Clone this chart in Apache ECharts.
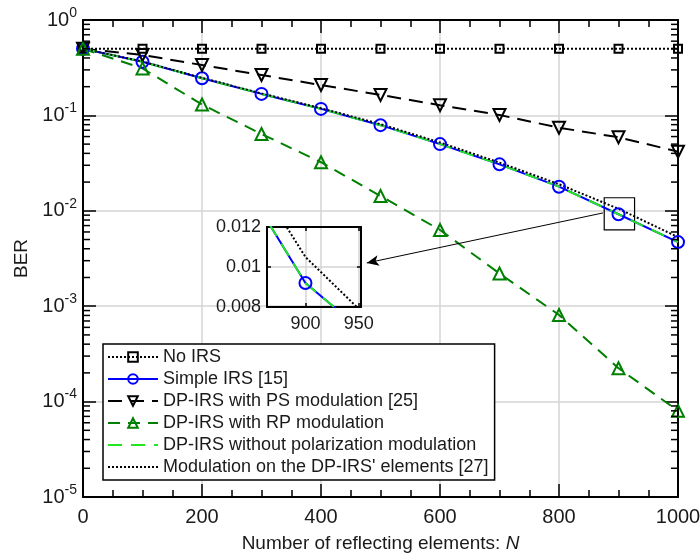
<!DOCTYPE html>
<html><head><meta charset="utf-8">
<script src="https://cdn.jsdelivr.net/npm/echarts@6/dist/echarts.min.js"></script>
<style>html,body{margin:0;padding:0;background:#fff}#c{width:700px;height:555px}</style>
</head><body><div id="c"></div>
<script>
// ---- data ----
const N = [0, 100, 200, 300, 400, 500, 600, 700, 800, 900, 1000];
const noIRS = [0.5, 0.5, 0.5, 0.5, 0.5, 0.5, 0.5, 0.5, 0.5, 0.5, 0.5];
const simpleIRS = [0.5, 0.365, 0.245, 0.168, 0.117, 0.079, 0.050, 0.0307, 0.0179, 0.0092, 0.0047];
const psMod = [0.5, 0.43, 0.337, 0.265, 0.208, 0.164, 0.128, 0.101, 0.0743, 0.059, 0.0417];
const rpMod = [0.5, 0.311, 0.13, 0.0638, 0.0323, 0.0143, 0.0063, 0.0022, 0.00081, 0.000224, 0.00008];
const noPolMod = [0.5, 0.365, 0.245, 0.168, 0.117, 0.079, 0.050, 0.0307, 0.0179, 0.0092, 0.0047];
const modElems = [0.5, 0.367, 0.247, 0.170, 0.119, 0.081, 0.052, 0.032, 0.019, 0.0105, 0.0053];
const names = ['No IRS', 'Simple IRS [15]', 'DP-IRS with PS modulation [25]', 'DP-IRS with RP modulation',
  'DP-IRS without polarization modulation', "Modulation on the DP-IRS' elements [27]"];
const xTicksInset = [900, 950];
const zoomBox = [[876, 0.0137], [927, 0.0063]];
const arrowFrom = [874, 0.0095];
const arrowTo = [477, 0.00284];
// minor log ticks (axis decoration)
const yMinor = [];
for (let e = -5; e < 0; e++) for (let m = 2; m <= 9; m++) yMinor.push(+(m * Math.pow(10, e)).toPrecision(3));

const FONT = '"Liberation Sans", Arial, sans-serif';
const TXT = '#1a1a1a';
const zip = a => N.map((x, i) => [x, a[i]]);

const chart = echarts.init(document.getElementById('c'));

function lineSeries(name, data, color, type, symbol, size, rotate, xi, yi, z) {
  const hasSym = !!symbol;
  return {
    type: 'line', name, data: zip(data), xAxisIndex: xi, yAxisIndex: yi,
    symbol: symbol || 'rect', symbolSize: hasSym ? size : 1, symbolRotate: rotate || 0,
    showSymbol: hasSym, clip: true, z: z,
    lineStyle: { color, width: 2, type },
    itemStyle: { color: 'rgba(255,255,255,0)', borderColor: hasSym ? color : 'rgba(255,255,255,0)', borderWidth: hasSym ? 2 : 0 },
    emphasis: { disabled: true }, silent: true
  };
}

const axisCommon = {
  axisLine: { show: true, onZero: false, lineStyle: { color: '#000', width: 2 } },
  axisTick: { show: true, inside: true, length: 13, lineStyle: { color: '#000', width: 1.5 } },
  minorTick: { show: false },
  splitLine: { show: false },
  axisLabel: { show: false }
};

const option = {
  animation: false,
  backgroundColor: '#fff',
  textStyle: { fontFamily: FONT },
  grid: [
    { left: 83, top: 20, width: 595, height: 477, containLabel: false, outerBoundsMode: 'none' },
    { left: 267, top: 227, width: 94, height: 80, containLabel: false, outerBoundsMode: 'none', z: 5 }
  ],
  legend: {
    orient: 'vertical', left: 103, top: 344, itemWidth: 50, itemHeight: 12, itemGap: 4,
    padding: [4, 6, 4, 4], backgroundColor: '#fff', borderColor: '#000', borderWidth: 1.5,
    textStyle: { fontSize: 18, color: TXT, fontFamily: FONT }, data: names, selectedMode: false, z: 10
  },
  xAxis: [
    Object.assign({}, axisCommon, {
      type: 'value', gridIndex: 0, min: 0, max: 1000, interval: 200, position: 'bottom',
      minorTick: { show: true, splitNumber: 4, length: 7, lineStyle: { color: '#000', width: 1.5 } },
      splitLine: { show: true, lineStyle: { color: '#d4d4d4', width: 1.5 } },
      axisLabel: { show: true, fontSize: 20, color: TXT, margin: 10, fontFamily: FONT, formatter: v => String(v) },
      name: '{a|Number of reflecting elements: }{i|N}', nameLocation: 'middle', nameGap: 37,
      nameTextStyle: { rich: { a: { fontSize: 19, color: TXT, fontFamily: FONT }, i: { fontSize: 19, color: TXT, fontStyle: 'italic', fontFamily: FONT } } }
    }),
    Object.assign({}, axisCommon, {
      type: 'value', gridIndex: 0, min: 0, max: 1000, interval: 200, position: 'top',
      minorTick: { show: true, splitNumber: 4, length: 7, lineStyle: { color: '#000', width: 1.5 } }
    }),
    Object.assign({}, axisCommon, {
      type: 'value', gridIndex: 1, min: 864, max: 952, position: 'bottom',
      axisTick: { show: true, inside: true, length: 4, customValues: xTicksInset, lineStyle: { color: '#000', width: 1.5 } },
      splitLine: { show: true, lineStyle: { color: '#d4d4d4', width: 1.5 } },
      axisLabel: { show: true, customValues: xTicksInset, fontSize: 18, color: TXT, margin: 8, fontFamily: FONT }
    }),
    Object.assign({}, axisCommon, {
      type: 'value', gridIndex: 1, min: 864, max: 952, position: 'top',
      axisTick: { show: true, inside: true, length: 4, customValues: xTicksInset, lineStyle: { color: '#000', width: 1.5 } }
    })
  ],
  yAxis: [
    Object.assign({}, axisCommon, {
      type: 'log', logBase: 10, gridIndex: 0, min: 1e-5, max: 1, position: 'left',
      splitLine: { show: true, lineStyle: { color: '#d4d4d4', width: 1.5 } },
      axisLabel: {
        show: true, margin: 6, fontFamily: FONT,
        formatter: v => '{b|10}{s|' + Math.round(Math.log10(v)) + '}',
        rich: { b: { fontSize: 20, color: TXT, lineHeight: 28, fontFamily: FONT }, s: { fontSize: 14, color: TXT, verticalAlign: 'top', lineHeight: 14, fontFamily: FONT } }
      },
      name: 'BER', nameLocation: 'middle', nameGap: 50, nameRotate: 90,
      nameTextStyle: { fontSize: 19, color: TXT, fontFamily: FONT }
    }),
    Object.assign({}, axisCommon, {
      type: 'log', logBase: 10, gridIndex: 0, min: 1e-5, max: 1, position: 'right'
    }),
    Object.assign({}, axisCommon, {
      type: 'value', gridIndex: 1, min: 0.008, max: 0.012, interval: 0.002, position: 'left',
      axisTick: { show: true, inside: true, length: 4, lineStyle: { color: '#000', width: 1.5 } },
      splitLine: { show: true, lineStyle: { color: '#d4d4d4', width: 1.5 } },
      axisLabel: { show: true, fontSize: 18, color: TXT, margin: 6, fontFamily: FONT }
    }),
    Object.assign({}, axisCommon, {
      type: 'value', gridIndex: 1, min: 0.008, max: 0.012, interval: 0.002, position: 'right',
      axisTick: { show: true, inside: true, length: 4, lineStyle: { color: '#000', width: 1.5 } }
    })
  ],
  series: [
    lineSeries(names[0], noIRS, '#000', [2, 2], 'rect', 8, 0, 0, 0, 2),
    lineSeries(names[1], simpleIRS, '#0000ff', 'solid', 'circle', 12, 0, 0, 0, 2),
    lineSeries(names[2], psMod, '#000', [14, 8], 'triangle', 12, 180, 0, 0, 2),
    lineSeries(names[3], rpMod, '#008000', [12, 8], 'triangle', 12, 0, 0, 0, 2),
    lineSeries(names[4], noPolMod, '#22e622', [14, 9], null, 0, 0, 0, 0, 2),
    lineSeries(names[5], modElems, '#000', [2, 2], null, 0, 0, 0, 0, 2),
    lineSeries('in1', simpleIRS, '#0000ff', 'solid', 'circle', 12, 0, 2, 2, 6),
    lineSeries('in2', noPolMod, '#22e622', [14, 9], null, 0, 0, 2, 2, 6),
    lineSeries('in3', modElems, '#000', [2, 2], null, 0, 0, 2, 2, 6),
    {
      type: 'custom', name: 'minor', xAxisIndex: 0, yAxisIndex: 0, silent: true, z: 3,
      data: yMinor.map(v => [0, v]),
      renderItem: (params, api) => {
        const v = api.value(1);
        const p0 = api.coord([0, v]);
        const p1 = api.coord([1000, v]);
        return { type: 'group', children: [
          { type: 'line', shape: { x1: p0[0], y1: p0[1], x2: p0[0] + 7, y2: p0[1] }, style: { stroke: '#000', lineWidth: 1.5 } },
          { type: 'line', shape: { x1: p1[0] - 7, y1: p1[1], x2: p1[0], y2: p1[1] }, style: { stroke: '#000', lineWidth: 1.5 } }
        ] };
      }
    },
    {
      type: 'line', name: 'annot', xAxisIndex: 0, yAxisIndex: 0, data: [], silent: true,
      markArea: { silent: true, itemStyle: { color: 'rgba(0,0,0,0)', borderColor: '#000', borderWidth: 1.2 },
        data: [[{ coord: zoomBox[0] }, { coord: zoomBox[1] }]] },
      markLine: { silent: true, symbol: ['none', 'arrow'], symbolSize: [8, 12], label: { show: false },
        lineStyle: { color: '#000', width: 1, type: 'solid' },
        data: [[{ coord: arrowFrom }, { coord: arrowTo }]] }
    }
  ]
};
chart.setOption(option);
</script></body></html>
